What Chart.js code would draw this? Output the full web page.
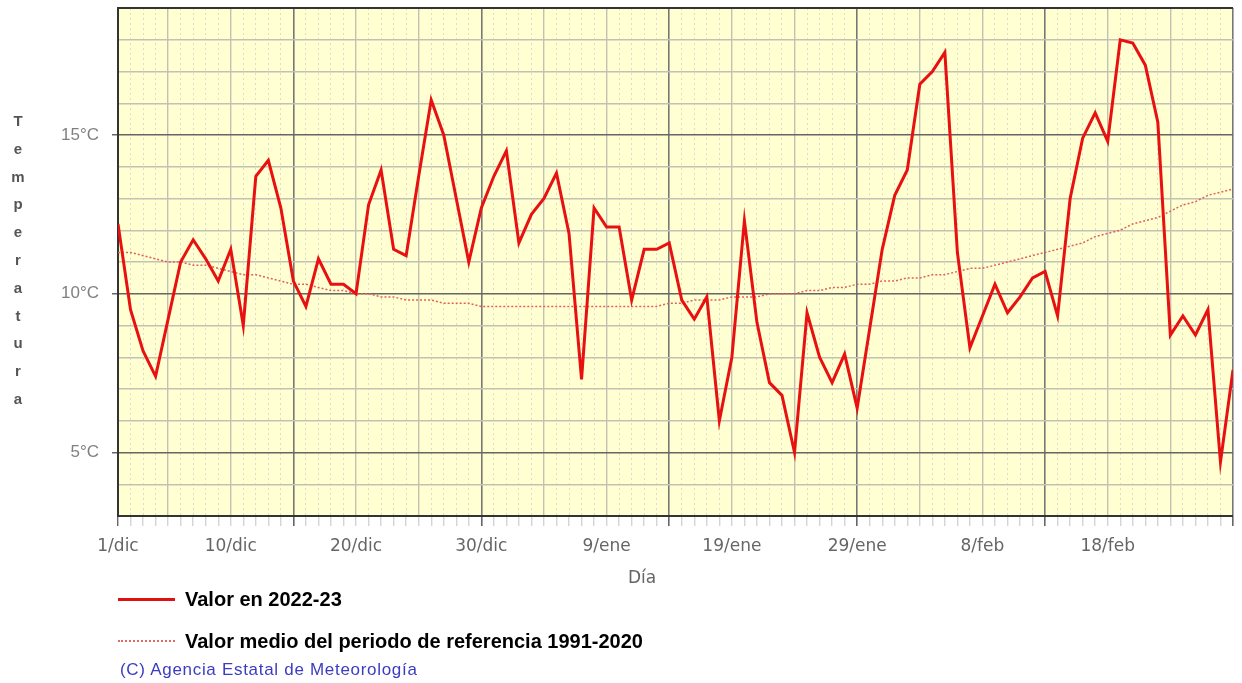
<!DOCTYPE html>
<html>
<head>
<meta charset="utf-8">
<script src="https://cdn.jsdelivr.net/npm/chart.js@4.4.0/dist/chart.umd.min.js"></script>
<style>
	body { margin: 0; background: #fff; }
	#wrap { position: relative; width: 1242px; height: 683px; overflow: hidden; }
	#myChart { position: absolute; left: 0; top: 0; }
	#ytitle { position: absolute; left: 8px; top: 107px; width: 20px; text-align: center;
		font: bold 15px 'Liberation Sans', sans-serif; line-height: 27.8px; color: #555; }
	#xtitle { position: absolute; left: 612px; top: 567px; width: 60px; text-align: center;
		font: 17px 'DejaVu Sans', sans-serif; color: #666; }
	.legLine { position: absolute; left: 118px; width: 57px; }
	.legText { position: absolute; left: 185px; font: bold 20px 'Liberation Sans', sans-serif; color: #000; }
	#copy { position: absolute; left: 120px; top: 660px; font: 17px 'Liberation Sans', sans-serif;
		letter-spacing: 0.7px; color: #3b3bc4; }
</style>
</head>
<body>
<div id="wrap">
	<canvas id="myChart" width="1242" height="683"></canvas>
	<div id="ytitle">T<br>e<br>m<br>p<br>e<br>r<br>a<br>t<br>u<br>r<br>a</div>
	<div id="xtitle">Día</div>
	<div class="legLine" style="top:598px; border-top:3px solid #e01010;"></div>
	<div class="legText" style="top:588px;">Valor en 2022-23</div>
	<div class="legLine" style="top:640px; border-top:2px dotted #e06a6a;"></div>
	<div class="legText" style="top:630px;">Valor medio del periodo de referencia 1991-2020</div>
	<div id="copy">(C) Agencia Estatal de Meteorología</div>
</div>
<script>
// dia 1 = 1/dic ... dia 90 = 28/feb
const tickDays = [1, 10, 20, 30, 40, 50, 60, 70, 80];
const tickLabels = ['1/dic', '10/dic', '20/dic', '30/dic', '9/ene', '19/ene', '29/ene', '8/feb', '18/feb'];
const yTickValues = [5, 10, 15];
const yTickLabels = ['5°C', '10°C', '15°C'];

// valor en 2022-23
const valor2223 = [
	12.2, 9.5, 8.2, 7.4, 9.2, 11.0, 11.7, 11.1, 10.4, 11.4,
	9.0, 13.7, 14.2, 12.7, 10.4, 9.6, 11.1, 10.3, 10.3, 10.0,
	12.8, 13.9, 11.4, 11.2, 13.7, 16.1, 15.0, 13.0, 11.0, 12.7,
	13.7, 14.5, 11.6, 12.5, 13.0, 13.8, 11.9, 7.3, 12.7, 12.1,
	12.1, 9.8, 11.4, 11.4, 11.6, 9.8, 9.2, 9.9, 6.0, 8.0,
	12.3, 9.1, 7.2, 6.8, 5.0, 9.4, 8.0, 7.2, 8.1, 6.4,
	8.9, 11.4, 13.1, 13.9, 16.6, 17.0, 17.6, 11.3, 8.3, 9.3,
	10.3, 9.4, 9.9, 10.5, 10.7, 9.3, 13.0, 14.9, 15.7, 14.8,
	18.0, 17.9, 17.2, 15.4, 8.7, 9.3, 8.7, 9.5, 4.7, 7.6
];

// valor medio 1991-2020
const valorMedio = [
	11.3, 11.3, 11.2, 11.1, 11.0, 11.0, 10.9, 10.9, 10.8, 10.7,
	10.6, 10.6, 10.5, 10.4, 10.3, 10.3, 10.2, 10.1, 10.1, 10.0,
	10.0, 9.9, 9.9, 9.8, 9.8, 9.8, 9.7, 9.7, 9.7, 9.6,
	9.6, 9.6, 9.6, 9.6, 9.6, 9.6, 9.6, 9.6, 9.6, 9.6,
	9.6, 9.6, 9.6, 9.6, 9.7, 9.7, 9.8, 9.8, 9.8, 9.9,
	9.9, 9.9, 10.0, 10.0, 10.0, 10.1, 10.1, 10.2, 10.2, 10.3,
	10.3, 10.4, 10.4, 10.5, 10.5, 10.6, 10.6, 10.7, 10.8, 10.8,
	10.9, 11.0, 11.1, 11.2, 11.3, 11.4, 11.5, 11.6, 11.8, 11.9,
	12.0, 12.2, 12.3, 12.4, 12.6, 12.8, 12.9, 13.1, 13.2, 13.3
];

const fondo = {
	id: 'fondo',
	beforeDraw(chart) {
		const a = chart.chartArea;
		chart.ctx.save();
		chart.ctx.fillStyle = '#ffffd2';
		chart.ctx.fillRect(a.left, a.top, a.right - a.left, a.bottom - a.top);
		chart.ctx.restore();
	},
};

function toPoints(arr) {
	return arr.map((v, i) => ({ x: i + 1, y: v }));
}

const config = {
	type: 'line',
	data: {
		datasets: [
			{
				label: 'Valor en 2022-23',
				data: toPoints(valor2223),
				borderColor: '#e81010',
				borderWidth: 3,
				pointRadius: 0,
				tension: 0,
				xAxisID: 'x',
			},
			{
				label: 'Valor medio del periodo de referencia 1991-2020',
				data: toPoints(valorMedio),
				borderColor: '#e06060',
				borderWidth: 1.5,
				borderDash: [2, 2],
				pointRadius: 0,
				tension: 0,
				xAxisID: 'x',
			},
		],
	},
	options: {
		responsive: false,
		animation: false,
		layout: { padding: { top: 8, right: 9, bottom: 92, left: 0 } },
		plugins: { legend: { display: false }, tooltip: { enabled: false } },
		scales: {
			x: {
				type: 'linear',
				min: 1,
				max: 90,
				afterFit(s) { s.height = 75; s.paddingLeft = 0; s.paddingRight = 0; },
				border: { display: true, color: '#333', width: 2 },
				grid: {
					color: (c) => {
						const v = c.tick.value;
						if (v === 1) return 'rgba(0,0,0,0)';
						if (v % 15 === 0) return '#777';
						if (v % 5 === 0) return '#c2c2b4';
						return 'rgba(0,0,0,0)';
					},
					lineWidth: (c) => (c.tick.value % 15 === 0 ? 1.6 : 1.4),
					tickColor: (c) => (c.tick.value % 15 === 0 || c.tick.value === 1 ? '#666' : '#d4d4d4'),
					tickLength: 10,
				},
				ticks: {
					stepSize: 1,
					autoSkip: false,
					maxRotation: 0,
					padding: 10,
					color: '#666',
					font: { family: 'DejaVu Sans', size: 17 },
					callback: (v) => {
						const k = tickDays.indexOf(v);
						return k >= 0 ? tickLabels[k] : '';
					},
				},
			},
			xd: {
				type: 'linear',
				position: 'bottom',
				min: 1,
				max: 90,
				afterFit(s) { s.height = 0; s.paddingLeft = 0; s.paddingRight = 0; },
				border: { display: false, dash: [2, 3] },
				grid: {
					color: (c) => (c.tick.value % 5 === 0 || c.tick.value === 1 ? 'rgba(0,0,0,0)' : '#dcdccb'),
					lineWidth: 1,
					drawTicks: false,
				},
				ticks: { stepSize: 1, autoSkip: false, display: false },
			},
			y: {
				min: 3,
				max: 19,
				afterFit(s) { s.width = 118; s.paddingTop = 0; s.paddingBottom = 0; },
				border: { display: true, color: '#333', width: 2 },
				grid: {
					color: (c) => {
						const v = c.tick.value;
						if (v === 19) return '#333';
						if (v % 5 === 0) return '#666';
						return '#c2c2b4';
					},
					lineWidth: (c) => (c.tick.value === 19 ? 2 : 1.5),
					tickColor: (c) => (c.tick.value % 5 === 0 ? '#666' : 'rgba(0,0,0,0)'),
					tickLength: 6,
				},
				ticks: {
					stepSize: 1,
					autoSkip: false,
					padding: 13,
					color: '#808080',
					font: { family: 'Liberation Sans', size: 17 },
					callback: (v) => {
						const k = yTickValues.indexOf(v);
						return k >= 0 ? yTickLabels[k] : '';
					},
				},
			},
		},
	},
	plugins: [fondo],
};

const myChart = new Chart(document.getElementById('myChart'), config);
</script>
</body>
</html>
